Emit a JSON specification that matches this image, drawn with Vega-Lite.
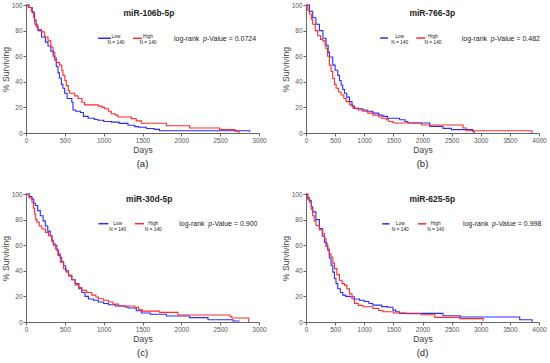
{
  "$schema": "https://vega.github.io/schema/vega-lite/v6.json",
  "padding": {"left": 1, "top": 2, "right": 2, "bottom": 3},
  "background": "white",
  "bounds": "flush",
  "columns": 2,
  "spacing": {"row": 61, "column": 47},
  "config": {
    "view": {"stroke": null},
    "font": "Liberation Sans",
    "axis": {"grid": false, "domainColor": "#666", "tickColor": "#666", "labelColor": "#555", "titleColor": "#444", "labelFont": "Liberation Sans", "titleFont": "Liberation Sans", "labelFontSize": 6.5, "titleFontSize": 8.5, "titleFontWeight": "normal", "tickSize": 3, "labelPadding": 1, "domainWidth": 1, "labelOverlap": false, "labelFlush": false, "format": "d"},
    "axisX": {"titlePadding": 2, "labelOverlap": false, "labelFlush": false},
    "axisY": {"titlePadding": 1, "labelOverlap": false, "labelFlush": false},
    "title": {"font": "Liberation Sans", "fontSize": 9.5, "fontWeight": "normal", "color": "#222", "orient": "bottom", "offset": 5},
    "text": {"font": "Liberation Sans", "color": "#222"}
  },
  "datasets": {
    "a": [
      {"day":0,"surv":100,"group":"Low"},{"day":40,"surv":98,"group":"Low"},{"day":80,"surv":94,"group":"Low"},{"day":110,"surv":88,"group":"Low"},{"day":130,"surv":83,"group":"Low"},{"day":155,"surv":80,"group":"Low"},{"day":200,"surv":75,"group":"Low"},{"day":250,"surv":71,"group":"Low"},{"day":283,"surv":68,"group":"Low"},{"day":320,"surv":64,"group":"Low"},{"day":350,"surv":60,"group":"Low"},{"day":369,"surv":57,"group":"Low"},{"day":390,"surv":52,"group":"Low"},{"day":412,"surv":47,"group":"Low"},{"day":430,"surv":43,"group":"Low"},{"day":455,"surv":38,"group":"Low"},{"day":475,"surv":35,"group":"Low"},{"day":498,"surv":31,"group":"Low"},{"day":530,"surv":27,"group":"Low"},{"day":590,"surv":24,"group":"Low"},{"day":605,"surv":18,"group":"Low"},{"day":640,"surv":17,"group":"Low"},{"day":700,"surv":16,"group":"Low"},{"day":740,"surv":13,"group":"Low"},{"day":800,"surv":11.5,"group":"Low"},{"day":880,"surv":10.5,"group":"Low"},{"day":927,"surv":10,"group":"Low"},{"day":1000,"surv":9,"group":"Low"},{"day":1100,"surv":8.5,"group":"Low"},{"day":1200,"surv":7.5,"group":"Low"},{"day":1313,"surv":6,"group":"Low"},{"day":1400,"surv":5,"group":"Low"},{"day":1450,"surv":4.5,"group":"Low"},{"day":1550,"surv":3.5,"group":"Low"},{"day":1650,"surv":2.8,"group":"Low"},{"day":1720,"surv":1.8,"group":"Low"},{"day":2858,"surv":1.8,"group":"Low"},{"day":2880,"surv":0.8,"group":"Low"},
      {"day":0,"surv":100,"group":"High"},{"day":30,"surv":98,"group":"High"},{"day":70,"surv":95,"group":"High"},{"day":100,"surv":90,"group":"High"},{"day":112,"surv":85,"group":"High"},{"day":150,"surv":81,"group":"High"},{"day":197,"surv":79,"group":"High"},{"day":240,"surv":75,"group":"High"},{"day":283,"surv":72,"group":"High"},{"day":320,"surv":67,"group":"High"},{"day":348,"surv":63,"group":"High"},{"day":370,"surv":59,"group":"High"},{"day":390,"surv":55,"group":"High"},{"day":433,"surv":53,"group":"High"},{"day":460,"surv":49,"group":"High"},{"day":476,"surv":45,"group":"High"},{"day":500,"surv":41,"group":"High"},{"day":519,"surv":37,"group":"High"},{"day":545,"surv":33,"group":"High"},{"day":562,"surv":31,"group":"High"},{"day":627,"surv":29,"group":"High"},{"day":670,"surv":27,"group":"High"},{"day":720,"surv":24,"group":"High"},{"day":755,"surv":22,"group":"High"},{"day":930,"surv":21,"group":"High"},{"day":980,"surv":20,"group":"High"},{"day":1013,"surv":19,"group":"High"},{"day":1060,"surv":17,"group":"High"},{"day":1099,"surv":15,"group":"High"},{"day":1150,"surv":14,"group":"High"},{"day":1185,"surv":12.5,"group":"High"},{"day":1356,"surv":11.2,"group":"High"},{"day":1420,"surv":9.5,"group":"High"},{"day":1485,"surv":7.6,"group":"High"},{"day":1807,"surv":5.7,"group":"High"},{"day":2107,"surv":3.9,"group":"High"},{"day":2494,"surv":2.6,"group":"High"},{"day":2690,"surv":1.5,"group":"High"},{"day":2742,"surv":0,"group":"High"}
    ],
    "b": [
      {"day":0,"surv":100,"group":"Low"},{"day":60,"surv":95,"group":"Low"},{"day":115,"surv":90,"group":"Low"},{"day":170,"surv":85,"group":"Low"},{"day":230,"surv":80,"group":"Low"},{"day":290,"surv":74,"group":"Low"},{"day":344,"surv":68.5,"group":"Low"},{"day":380,"surv":63,"group":"Low"},{"day":402,"surv":59.4,"group":"Low"},{"day":459,"surv":53,"group":"Low"},{"day":500,"surv":49,"group":"Low"},{"day":545,"surv":45,"group":"Low"},{"day":575,"surv":41,"group":"Low"},{"day":603,"surv":37.5,"group":"Low"},{"day":630,"surv":34,"group":"Low"},{"day":660,"surv":31,"group":"Low"},{"day":700,"surv":28,"group":"Low"},{"day":746,"surv":24.5,"group":"Low"},{"day":790,"surv":21,"group":"Low"},{"day":832,"surv":19,"group":"Low"},{"day":976,"surv":18,"group":"Low"},{"day":1050,"surv":17,"group":"Low"},{"day":1148,"surv":15.5,"group":"Low"},{"day":1250,"surv":14,"group":"Low"},{"day":1320,"surv":13,"group":"Low"},{"day":1400,"surv":11.5,"group":"Low"},{"day":1607,"surv":10.3,"group":"Low"},{"day":1700,"surv":9,"group":"Low"},{"day":1750,"surv":7.8,"group":"Low"},{"day":2124,"surv":5.2,"group":"Low"},{"day":2352,"surv":3.6,"group":"Low"},{"day":2495,"surv":2.6,"group":"Low"},{"day":2867,"surv":1,"group":"Low"},{"day":2887,"surv":0,"group":"Low"},
      {"day":0,"surv":100,"group":"High"},{"day":30,"surv":96,"group":"High"},{"day":57,"surv":93,"group":"High"},{"day":90,"surv":89,"group":"High"},{"day":115,"surv":85,"group":"High"},{"day":160,"surv":80,"group":"High"},{"day":201,"surv":76,"group":"High"},{"day":250,"surv":73,"group":"High"},{"day":287,"surv":72,"group":"High"},{"day":330,"surv":68,"group":"High"},{"day":344,"surv":66,"group":"High"},{"day":370,"surv":60,"group":"High"},{"day":402,"surv":53,"group":"High"},{"day":430,"surv":48,"group":"High"},{"day":459,"surv":42.6,"group":"High"},{"day":490,"surv":38,"group":"High"},{"day":517,"surv":35,"group":"High"},{"day":560,"surv":32,"group":"High"},{"day":603,"surv":29.7,"group":"High"},{"day":650,"surv":27,"group":"High"},{"day":689,"surv":24.5,"group":"High"},{"day":750,"surv":22,"group":"High"},{"day":804,"surv":19.4,"group":"High"},{"day":900,"surv":18,"group":"High"},{"day":976,"surv":17,"group":"High"},{"day":1060,"surv":15.5,"group":"High"},{"day":1148,"surv":14,"group":"High"},{"day":1250,"surv":12.5,"group":"High"},{"day":1300,"surv":11.5,"group":"High"},{"day":1377,"surv":10.3,"group":"High"},{"day":1420,"surv":9,"group":"High"},{"day":1492,"surv":7.8,"group":"High"},{"day":1981,"surv":6.3,"group":"High"},{"day":2696,"surv":3.9,"group":"High"},{"day":2753,"surv":1.8,"group":"High"},{"day":3874,"surv":1.8,"group":"High"},{"day":3880,"surv":0,"group":"High"}
    ],
    "c": [
      {"day":0,"surv":100,"group":"Low"},{"day":40,"surv":98,"group":"Low"},{"day":77,"surv":96,"group":"Low"},{"day":100,"surv":93,"group":"Low"},{"day":120,"surv":91,"group":"Low"},{"day":150,"surv":87,"group":"Low"},{"day":184,"surv":83,"group":"Low"},{"day":220,"surv":79,"group":"Low"},{"day":248,"surv":75,"group":"Low"},{"day":280,"surv":71,"group":"Low"},{"day":312,"surv":67.5,"group":"Low"},{"day":335,"surv":63,"group":"Low"},{"day":355,"surv":60,"group":"Low"},{"day":398,"surv":56,"group":"Low"},{"day":420,"surv":53,"group":"Low"},{"day":441,"surv":50.6,"group":"Low"},{"day":460,"surv":47,"group":"Low"},{"day":484,"surv":44,"group":"Low"},{"day":510,"surv":40,"group":"Low"},{"day":548,"surv":36,"group":"Low"},{"day":590,"surv":33,"group":"Low"},{"day":633,"surv":30,"group":"Low"},{"day":680,"surv":26,"group":"Low"},{"day":719,"surv":23,"group":"Low"},{"day":760,"surv":20,"group":"Low"},{"day":804,"surv":18,"group":"Low"},{"day":870,"surv":17,"group":"Low"},{"day":932,"surv":15.6,"group":"Low"},{"day":1000,"surv":14.5,"group":"Low"},{"day":1061,"surv":13.5,"group":"Low"},{"day":1150,"surv":12.5,"group":"Low"},{"day":1275,"surv":11.7,"group":"Low"},{"day":1313,"surv":10.9,"group":"Low"},{"day":1420,"surv":8.8,"group":"Low"},{"day":1485,"surv":7,"group":"Low"},{"day":1600,"surv":6,"group":"Low"},{"day":1807,"surv":4.7,"group":"Low"},{"day":2107,"surv":3.4,"group":"Low"},{"day":2343,"surv":1.8,"group":"Low"},{"day":2665,"surv":0.8,"group":"Low"},{"day":2750,"surv":0.8,"group":"Low"},
      {"day":0,"surv":100,"group":"High"},{"day":40,"surv":97,"group":"High"},{"day":77,"surv":93.5,"group":"High"},{"day":95,"surv":89,"group":"High"},{"day":111,"surv":84.4,"group":"High"},{"day":125,"surv":80,"group":"High"},{"day":141,"surv":78,"group":"High"},{"day":170,"surv":75,"group":"High"},{"day":205,"surv":72.7,"group":"High"},{"day":250,"surv":70,"group":"High"},{"day":291,"surv":67.5,"group":"High"},{"day":330,"surv":64,"group":"High"},{"day":350,"surv":61,"group":"High"},{"day":377,"surv":57,"group":"High"},{"day":410,"surv":52,"group":"High"},{"day":441,"surv":46.8,"group":"High"},{"day":484,"surv":41.6,"group":"High"},{"day":520,"surv":39,"group":"High"},{"day":548,"surv":36.4,"group":"High"},{"day":590,"surv":33,"group":"High"},{"day":633,"surv":29,"group":"High"},{"day":680,"surv":27,"group":"High"},{"day":719,"surv":24.7,"group":"High"},{"day":780,"surv":23,"group":"High"},{"day":847,"surv":21,"group":"High"},{"day":900,"surv":19.5,"group":"High"},{"day":932,"surv":18.2,"group":"High"},{"day":1000,"surv":17,"group":"High"},{"day":1061,"surv":15.6,"group":"High"},{"day":1120,"surv":14,"group":"High"},{"day":1190,"surv":12.5,"group":"High"},{"day":1400,"surv":11.5,"group":"High"},{"day":1450,"surv":9.5,"group":"High"},{"day":1500,"surv":8.5,"group":"High"},{"day":1720,"surv":7.5,"group":"High"},{"day":1956,"surv":5.5,"group":"High"},{"day":2623,"surv":4.5,"group":"High"},{"day":2650,"surv":3.1,"group":"High"},{"day":2860,"surv":3.1,"group":"High"},{"day":2868,"surv":0,"group":"High"}
    ],
    "d": [
      {"day":0,"surv":100,"group":"Low"},{"day":30,"surv":97,"group":"Low"},{"day":57,"surv":95,"group":"Low"},{"day":90,"surv":90,"group":"Low"},{"day":115,"surv":86,"group":"Low"},{"day":170,"surv":80,"group":"Low"},{"day":230,"surv":73,"group":"Low"},{"day":280,"surv":67,"group":"Low"},{"day":316,"surv":62.4,"group":"Low"},{"day":345,"surv":59,"group":"Low"},{"day":373,"surv":56,"group":"Low"},{"day":400,"surv":50,"group":"Low"},{"day":430,"surv":44.3,"group":"Low"},{"day":460,"surv":39,"group":"Low"},{"day":488,"surv":34,"group":"Low"},{"day":515,"surv":30,"group":"Low"},{"day":545,"surv":26,"group":"Low"},{"day":590,"surv":23,"group":"Low"},{"day":631,"surv":21,"group":"Low"},{"day":680,"surv":20,"group":"Low"},{"day":746,"surv":19.7,"group":"Low"},{"day":830,"surv":18,"group":"Low"},{"day":918,"surv":17,"group":"Low"},{"day":1000,"surv":16,"group":"Low"},{"day":1080,"surv":14.5,"group":"Low"},{"day":1148,"surv":13.2,"group":"Low"},{"day":1300,"surv":12,"group":"Low"},{"day":1400,"surv":11.5,"group":"Low"},{"day":1492,"surv":9.3,"group":"Low"},{"day":1540,"surv":8,"group":"Low"},{"day":1607,"surv":6.7,"group":"Low"},{"day":2352,"surv":4.9,"group":"Low"},{"day":2650,"surv":3.9,"group":"Low"},{"day":3669,"surv":1.8,"group":"Low"},{"day":3860,"surv":1.8,"group":"Low"},{"day":3880,"surv":0,"group":"Low"},
      {"day":0,"surv":100,"group":"High"},{"day":30,"surv":96,"group":"High"},{"day":57,"surv":93.5,"group":"High"},{"day":90,"surv":88,"group":"High"},{"day":115,"surv":83,"group":"High"},{"day":140,"surv":79,"group":"High"},{"day":172,"surv":75.4,"group":"High"},{"day":230,"surv":72,"group":"High"},{"day":287,"surv":69,"group":"High"},{"day":320,"surv":65,"group":"High"},{"day":345,"surv":61,"group":"High"},{"day":373,"surv":57,"group":"High"},{"day":400,"surv":53,"group":"High"},{"day":430,"surv":50.8,"group":"High"},{"day":460,"surv":46,"group":"High"},{"day":488,"surv":41.7,"group":"High"},{"day":530,"surv":37,"group":"High"},{"day":574,"surv":32.6,"group":"High"},{"day":620,"surv":30,"group":"High"},{"day":660,"surv":28.8,"group":"High"},{"day":700,"surv":26,"group":"High"},{"day":746,"surv":22,"group":"High"},{"day":790,"surv":18,"group":"High"},{"day":832,"surv":14.5,"group":"High"},{"day":900,"surv":13,"group":"High"},{"day":976,"surv":11.9,"group":"High"},{"day":1148,"surv":10.6,"group":"High"},{"day":1250,"surv":9,"group":"High"},{"day":1320,"surv":8,"group":"High"},{"day":1500,"surv":7,"group":"High"},{"day":1722,"surv":6.5,"group":"High"},{"day":1980,"surv":5.7,"group":"High"},{"day":2210,"surv":3.6,"group":"High"},{"day":2640,"surv":2.6,"group":"High"},{"day":3040,"surv":1.3,"group":"High"},{"day":3050,"surv":1.3,"group":"High"}
    ]
  },
  "concat": [
    {
      "width": 233, "height": 128,
      "title": {"text": "(a)"},
      "layer": [
        {"data": {"name": "a"}, "mark": {"type": "line", "interpolate": "step-after", "strokeWidth": 1.1},
         "encoding": {
           "x": {"field": "day", "type": "quantitative", "scale": {"domain": [0, 3000], "nice": false}, "axis": {"values": [0, 500, 1000, 1500, 2000, 2500, 3000], "title": "Days", "labelOverlap": false, "labelFlush": false}},
           "y": {"field": "surv", "type": "quantitative", "scale": {"domain": [0, 100], "nice": false}, "axis": {"values": [0, 20, 40, 60, 80, 100], "title": "% Surviving", "labelOverlap": false, "labelFlush": false}},
           "color": {"field": "group", "type": "nominal", "scale": {"domain": ["Low", "High"], "range": ["#2b2bff", "#ff2b2b"]}, "legend": null}
         }},
        {"data": {"values": [{}]}, "mark": {"type": "text", "text": "miR-106b-5p", "fontWeight": "bold", "fontSize": 8.5}, "encoding": {"x": {"datum": 1584, "axis": {"values": [0, 500, 1000, 1500, 2000, 2500, 3000], "title": "Days", "labelOverlap": false, "labelFlush": false}}, "y": {"datum": 93.8, "axis": {"values": [0, 20, 40, 60, 80, 100], "title": "% Surviving", "labelOverlap": false, "labelFlush": false}}}},
        {"data": {"values": [{}]}, "mark": {"type": "rule", "color": "#2b2bff", "strokeWidth": 1.5}, "encoding": {"x": {"datum": 927, "axis": {"values": [0, 500, 1000, 1500, 2000, 2500, 3000], "title": "Days", "labelOverlap": false, "labelFlush": false}}, "x2": {"datum": 1094}, "y": {"datum": 74, "axis": {"values": [0, 20, 40, 60, 80, 100], "title": "% Surviving", "labelOverlap": false, "labelFlush": false}}}},
        {"data": {"values": [{}]}, "mark": {"type": "rule", "color": "#ff2b2b", "strokeWidth": 1.5}, "encoding": {"x": {"datum": 1378, "axis": {"values": [0, 500, 1000, 1500, 2000, 2500, 3000], "title": "Days", "labelOverlap": false, "labelFlush": false}}, "x2": {"datum": 1494}, "y": {"datum": 74, "axis": {"values": [0, 20, 40, 60, 80, 100], "title": "% Surviving", "labelOverlap": false, "labelFlush": false}}}},
        {"data": {"values": [{}]}, "mark": {"type": "text", "text": ["Low", "N = 140"], "fontSize": 4.8, "lineHeight": 6, "baseline": "middle"}, "encoding": {"x": {"datum": 1159, "axis": {"values": [0, 500, 1000, 1500, 2000, 2500, 3000], "title": "Days", "labelOverlap": false, "labelFlush": false}}, "y": {"datum": 75, "axis": {"values": [0, 20, 40, 60, 80, 100], "title": "% Surviving", "labelOverlap": false, "labelFlush": false}}}},
        {"data": {"values": [{}]}, "mark": {"type": "text", "text": ["High", "N = 140"], "fontSize": 4.8, "lineHeight": 6, "baseline": "middle"}, "encoding": {"x": {"datum": 1571, "axis": {"values": [0, 500, 1000, 1500, 2000, 2500, 3000], "title": "Days", "labelOverlap": false, "labelFlush": false}}, "y": {"datum": 75, "axis": {"values": [0, 20, 40, 60, 80, 100], "title": "% Surviving", "labelOverlap": false, "labelFlush": false}}}},
        {"data": {"values": [{}]}, "mark": {"type": "text", "text": "log-rank", "fontSize": 7, "align": "left", "baseline": "middle"}, "encoding": {"x": {"datum": 1906, "axis": {"values": [0, 500, 1000, 1500, 2000, 2500, 3000], "title": "Days", "labelOverlap": false, "labelFlush": false}}, "y": {"datum": 73.5, "axis": {"values": [0, 20, 40, 60, 80, 100], "title": "% Surviving", "labelOverlap": false, "labelFlush": false}}}},
        {"data": {"values": [{}]}, "mark": {"type": "text", "text": "p", "fontSize": 7, "fontStyle": "italic", "align": "left", "baseline": "middle", "dx": 29}, "encoding": {"x": {"datum": 1906, "axis": {"values": [0, 500, 1000, 1500, 2000, 2500, 3000], "title": "Days", "labelOverlap": false, "labelFlush": false}}, "y": {"datum": 73.5, "axis": {"values": [0, 20, 40, 60, 80, 100], "title": "% Surviving", "labelOverlap": false, "labelFlush": false}}}},
        {"data": {"values": [{}]}, "mark": {"type": "text", "text": "-Value = 0.0724", "fontSize": 7, "align": "left", "baseline": "middle", "dx": 33}, "encoding": {"x": {"datum": 1906, "axis": {"values": [0, 500, 1000, 1500, 2000, 2500, 3000], "title": "Days", "labelOverlap": false, "labelFlush": false}}, "y": {"datum": 73.5, "axis": {"values": [0, 20, 40, 60, 80, 100], "title": "% Surviving", "labelOverlap": false, "labelFlush": false}}}}
      ]
    },
    {
      "width": 233, "height": 128,
      "title": {"text": "(b)"},
      "layer": [
        {"data": {"name": "b"}, "mark": {"type": "line", "interpolate": "step-after", "strokeWidth": 1.1},
         "encoding": {
           "x": {"field": "day", "type": "quantitative", "scale": {"domain": [0, 4000], "nice": false}, "axis": {"values": [0, 500, 1000, 1500, 2000, 2500, 3000, 3500, 4000], "title": "Days", "labelOverlap": false, "labelFlush": false}},
           "y": {"field": "surv", "type": "quantitative", "scale": {"domain": [0, 100], "nice": false}, "axis": {"values": [0, 20, 40, 60, 80, 100], "title": "% Surviving", "labelOverlap": false, "labelFlush": false}},
           "color": {"field": "group", "type": "nominal", "scale": {"domain": ["Low", "High"], "range": ["#2b2bff", "#ff2b2b"]}, "legend": null}
         }},
        {"data": {"values": [{}]}, "mark": {"type": "text", "text": "miR-766-3p", "fontWeight": "bold", "fontSize": 8.5}, "encoding": {"x": {"datum": 2169, "axis": {"values": [0, 500, 1000, 1500, 2000, 2500, 3000, 3500, 4000], "title": "Days", "labelOverlap": false, "labelFlush": false}}, "y": {"datum": 93.8, "axis": {"values": [0, 20, 40, 60, 80, 100], "title": "% Surviving", "labelOverlap": false, "labelFlush": false}}}},
        {"data": {"values": [{}]}, "mark": {"type": "rule", "color": "#2b2bff", "strokeWidth": 1.5}, "encoding": {"x": {"datum": 1274, "axis": {"values": [0, 500, 1000, 1500, 2000, 2500, 3000, 3500, 4000], "title": "Days", "labelOverlap": false, "labelFlush": false}}, "x2": {"datum": 1406}, "y": {"datum": 74.2, "axis": {"values": [0, 20, 40, 60, 80, 100], "title": "% Surviving", "labelOverlap": false, "labelFlush": false}}}},
        {"data": {"values": [{}]}, "mark": {"type": "rule", "color": "#ff2b2b", "strokeWidth": 1.5}, "encoding": {"x": {"datum": 1894, "axis": {"values": [0, 500, 1000, 1500, 2000, 2500, 3000, 3500, 4000], "title": "Days", "labelOverlap": false, "labelFlush": false}}, "x2": {"datum": 2049}, "y": {"datum": 74.2, "axis": {"values": [0, 20, 40, 60, 80, 100], "title": "% Surviving", "labelOverlap": false, "labelFlush": false}}}},
        {"data": {"values": [{}]}, "mark": {"type": "text", "text": ["Low", "N = 140"], "fontSize": 4.8, "lineHeight": 6, "baseline": "middle"}, "encoding": {"x": {"datum": 1607, "axis": {"values": [0, 500, 1000, 1500, 2000, 2500, 3000, 3500, 4000], "title": "Days", "labelOverlap": false, "labelFlush": false}}, "y": {"datum": 74.7, "axis": {"values": [0, 20, 40, 60, 80, 100], "title": "% Surviving", "labelOverlap": false, "labelFlush": false}}}},
        {"data": {"values": [{}]}, "mark": {"type": "text", "text": ["High", "N = 140"], "fontSize": 4.8, "lineHeight": 6, "baseline": "middle"}, "encoding": {"x": {"datum": 2181, "axis": {"values": [0, 500, 1000, 1500, 2000, 2500, 3000, 3500, 4000], "title": "Days", "labelOverlap": false, "labelFlush": false}}, "y": {"datum": 74.7, "axis": {"values": [0, 20, 40, 60, 80, 100], "title": "% Surviving", "labelOverlap": false, "labelFlush": false}}}},
        {"data": {"values": [{}]}, "mark": {"type": "text", "text": "log-rank", "fontSize": 7, "align": "left", "baseline": "middle"}, "encoding": {"x": {"datum": 2674, "axis": {"values": [0, 500, 1000, 1500, 2000, 2500, 3000, 3500, 4000], "title": "Days", "labelOverlap": false, "labelFlush": false}}, "y": {"datum": 73.6, "axis": {"values": [0, 20, 40, 60, 80, 100], "title": "% Surviving", "labelOverlap": false, "labelFlush": false}}}},
        {"data": {"values": [{}]}, "mark": {"type": "text", "text": "p", "fontSize": 7, "fontStyle": "italic", "align": "left", "baseline": "middle", "dx": 29}, "encoding": {"x": {"datum": 2674, "axis": {"values": [0, 500, 1000, 1500, 2000, 2500, 3000, 3500, 4000], "title": "Days", "labelOverlap": false, "labelFlush": false}}, "y": {"datum": 73.6, "axis": {"values": [0, 20, 40, 60, 80, 100], "title": "% Surviving", "labelOverlap": false, "labelFlush": false}}}},
        {"data": {"values": [{}]}, "mark": {"type": "text", "text": "-Value = 0.482", "fontSize": 7, "align": "left", "baseline": "middle", "dx": 33}, "encoding": {"x": {"datum": 2674, "axis": {"values": [0, 500, 1000, 1500, 2000, 2500, 3000, 3500, 4000], "title": "Days", "labelOverlap": false, "labelFlush": false}}, "y": {"datum": 73.6, "axis": {"values": [0, 20, 40, 60, 80, 100], "title": "% Surviving", "labelOverlap": false, "labelFlush": false}}}}
      ]
    },
    {
      "width": 233, "height": 128,
      "title": {"text": "(c)"},
      "layer": [
        {"data": {"name": "c"}, "mark": {"type": "line", "interpolate": "step-after", "strokeWidth": 1.1},
         "encoding": {
           "x": {"field": "day", "type": "quantitative", "scale": {"domain": [0, 3000], "nice": false}, "axis": {"values": [0, 500, 1000, 1500, 2000, 2500, 3000], "title": "Days", "labelOverlap": false, "labelFlush": false}},
           "y": {"field": "surv", "type": "quantitative", "scale": {"domain": [0, 100], "nice": false}, "axis": {"values": [0, 20, 40, 60, 80, 100], "title": "% Surviving", "labelOverlap": false, "labelFlush": false}},
           "color": {"field": "group", "type": "nominal", "scale": {"domain": ["Low", "High"], "range": ["#2b2bff", "#ff2b2b"]}, "legend": null}
         }},
        {"data": {"values": [{}]}, "mark": {"type": "text", "text": "miR-30d-5p", "fontWeight": "bold", "fontSize": 8.5}, "encoding": {"x": {"datum": 1587, "axis": {"values": [0, 500, 1000, 1500, 2000, 2500, 3000], "title": "Days", "labelOverlap": false, "labelFlush": false}}, "y": {"datum": 96, "axis": {"values": [0, 20, 40, 60, 80, 100], "title": "% Surviving", "labelOverlap": false, "labelFlush": false}}}},
        {"data": {"values": [{}]}, "mark": {"type": "rule", "color": "#2b2bff", "strokeWidth": 1.5}, "encoding": {"x": {"datum": 933, "axis": {"values": [0, 500, 1000, 1500, 2000, 2500, 3000], "title": "Days", "labelOverlap": false, "labelFlush": false}}, "x2": {"datum": 1061}, "y": {"datum": 76.8, "axis": {"values": [0, 20, 40, 60, 80, 100], "title": "% Surviving", "labelOverlap": false, "labelFlush": false}}}},
        {"data": {"values": [{}]}, "mark": {"type": "rule", "color": "#ff2b2b", "strokeWidth": 1.5}, "encoding": {"x": {"datum": 1403, "axis": {"values": [0, 500, 1000, 1500, 2000, 2500, 3000], "title": "Days", "labelOverlap": false, "labelFlush": false}}, "x2": {"datum": 1519}, "y": {"datum": 76.8, "axis": {"values": [0, 20, 40, 60, 80, 100], "title": "% Surviving", "labelOverlap": false, "labelFlush": false}}}},
        {"data": {"values": [{}]}, "mark": {"type": "text", "text": ["Low", "N = 140"], "fontSize": 4.8, "lineHeight": 6, "baseline": "middle"}, "encoding": {"x": {"datum": 1181, "axis": {"values": [0, 500, 1000, 1500, 2000, 2500, 3000], "title": "Days", "labelOverlap": false, "labelFlush": false}}, "y": {"datum": 76.8, "axis": {"values": [0, 20, 40, 60, 80, 100], "title": "% Surviving", "labelOverlap": false, "labelFlush": false}}}},
        {"data": {"values": [{}]}, "mark": {"type": "text", "text": ["High", "N = 140"], "fontSize": 4.8, "lineHeight": 6, "baseline": "middle"}, "encoding": {"x": {"datum": 1639, "axis": {"values": [0, 500, 1000, 1500, 2000, 2500, 3000], "title": "Days", "labelOverlap": false, "labelFlush": false}}, "y": {"datum": 76.8, "axis": {"values": [0, 20, 40, 60, 80, 100], "title": "% Surviving", "labelOverlap": false, "labelFlush": false}}}},
        {"data": {"values": [{}]}, "mark": {"type": "text", "text": "log-rank", "fontSize": 7, "align": "left", "baseline": "middle"}, "encoding": {"x": {"datum": 1973, "axis": {"values": [0, 500, 1000, 1500, 2000, 2500, 3000], "title": "Days", "labelOverlap": false, "labelFlush": false}}, "y": {"datum": 76.6, "axis": {"values": [0, 20, 40, 60, 80, 100], "title": "% Surviving", "labelOverlap": false, "labelFlush": false}}}},
        {"data": {"values": [{}]}, "mark": {"type": "text", "text": "p", "fontSize": 7, "fontStyle": "italic", "align": "left", "baseline": "middle", "dx": 29}, "encoding": {"x": {"datum": 1973, "axis": {"values": [0, 500, 1000, 1500, 2000, 2500, 3000], "title": "Days", "labelOverlap": false, "labelFlush": false}}, "y": {"datum": 76.6, "axis": {"values": [0, 20, 40, 60, 80, 100], "title": "% Surviving", "labelOverlap": false, "labelFlush": false}}}},
        {"data": {"values": [{}]}, "mark": {"type": "text", "text": "-Value = 0.900", "fontSize": 7, "align": "left", "baseline": "middle", "dx": 33}, "encoding": {"x": {"datum": 1973, "axis": {"values": [0, 500, 1000, 1500, 2000, 2500, 3000], "title": "Days", "labelOverlap": false, "labelFlush": false}}, "y": {"datum": 76.6, "axis": {"values": [0, 20, 40, 60, 80, 100], "title": "% Surviving", "labelOverlap": false, "labelFlush": false}}}}
      ]
    },
    {
      "width": 233, "height": 128,
      "title": {"text": "(d)"},
      "layer": [
        {"data": {"name": "d"}, "mark": {"type": "line", "interpolate": "step-after", "strokeWidth": 1.1},
         "encoding": {
           "x": {"field": "day", "type": "quantitative", "scale": {"domain": [0, 4000], "nice": false}, "axis": {"values": [0, 500, 1000, 1500, 2000, 2500, 3000, 3500, 4000], "title": "Days", "labelOverlap": false, "labelFlush": false}},
           "y": {"field": "surv", "type": "quantitative", "scale": {"domain": [0, 100], "nice": false}, "axis": {"values": [0, 20, 40, 60, 80, 100], "title": "% Surviving", "labelOverlap": false, "labelFlush": false}},
           "color": {"field": "group", "type": "nominal", "scale": {"domain": ["Low", "High"], "range": ["#2b2bff", "#ff2b2b"]}, "legend": null}
         }},
        {"data": {"values": [{}]}, "mark": {"type": "text", "text": "miR-625-5p", "fontWeight": "bold", "fontSize": 8.5}, "encoding": {"x": {"datum": 2169, "axis": {"values": [0, 500, 1000, 1500, 2000, 2500, 3000, 3500, 4000], "title": "Days", "labelOverlap": false, "labelFlush": false}}, "y": {"datum": 96.1, "axis": {"values": [0, 20, 40, 60, 80, 100], "title": "% Surviving", "labelOverlap": false, "labelFlush": false}}}},
        {"data": {"values": [{}]}, "mark": {"type": "rule", "color": "#2b2bff", "strokeWidth": 1.5}, "encoding": {"x": {"datum": 1308, "axis": {"values": [0, 500, 1000, 1500, 2000, 2500, 3000, 3500, 4000], "title": "Days", "labelOverlap": false, "labelFlush": false}}, "x2": {"datum": 1435}, "y": {"datum": 76.7, "axis": {"values": [0, 20, 40, 60, 80, 100], "title": "% Surviving", "labelOverlap": false, "labelFlush": false}}}},
        {"data": {"values": [{}]}, "mark": {"type": "rule", "color": "#ff2b2b", "strokeWidth": 1.5}, "encoding": {"x": {"datum": 1922, "axis": {"values": [0, 500, 1000, 1500, 2000, 2500, 3000, 3500, 4000], "title": "Days", "labelOverlap": false, "labelFlush": false}}, "x2": {"datum": 2066}, "y": {"datum": 76.7, "axis": {"values": [0, 20, 40, 60, 80, 100], "title": "% Surviving", "labelOverlap": false, "labelFlush": false}}}},
        {"data": {"values": [{}]}, "mark": {"type": "text", "text": ["Low", "N = 140"], "fontSize": 4.8, "lineHeight": 6, "baseline": "middle"}, "encoding": {"x": {"datum": 1618, "axis": {"values": [0, 500, 1000, 1500, 2000, 2500, 3000, 3500, 4000], "title": "Days", "labelOverlap": false, "labelFlush": false}}, "y": {"datum": 76.7, "axis": {"values": [0, 20, 40, 60, 80, 100], "title": "% Surviving", "labelOverlap": false, "labelFlush": false}}}},
        {"data": {"values": [{}]}, "mark": {"type": "text", "text": ["High", "N = 140"], "fontSize": 4.8, "lineHeight": 6, "baseline": "middle"}, "encoding": {"x": {"datum": 2227, "axis": {"values": [0, 500, 1000, 1500, 2000, 2500, 3000, 3500, 4000], "title": "Days", "labelOverlap": false, "labelFlush": false}}, "y": {"datum": 76.7, "axis": {"values": [0, 20, 40, 60, 80, 100], "title": "% Surviving", "labelOverlap": false, "labelFlush": false}}}},
        {"data": {"values": [{}]}, "mark": {"type": "text", "text": "log-rank", "fontSize": 7, "align": "left", "baseline": "middle"}, "encoding": {"x": {"datum": 2697, "axis": {"values": [0, 500, 1000, 1500, 2000, 2500, 3000, 3500, 4000], "title": "Days", "labelOverlap": false, "labelFlush": false}}, "y": {"datum": 76.2, "axis": {"values": [0, 20, 40, 60, 80, 100], "title": "% Surviving", "labelOverlap": false, "labelFlush": false}}}},
        {"data": {"values": [{}]}, "mark": {"type": "text", "text": "p", "fontSize": 7, "fontStyle": "italic", "align": "left", "baseline": "middle", "dx": 29}, "encoding": {"x": {"datum": 2697, "axis": {"values": [0, 500, 1000, 1500, 2000, 2500, 3000, 3500, 4000], "title": "Days", "labelOverlap": false, "labelFlush": false}}, "y": {"datum": 76.2, "axis": {"values": [0, 20, 40, 60, 80, 100], "title": "% Surviving", "labelOverlap": false, "labelFlush": false}}}},
        {"data": {"values": [{}]}, "mark": {"type": "text", "text": "-Value = 0.998", "fontSize": 7, "align": "left", "baseline": "middle", "dx": 33}, "encoding": {"x": {"datum": 2697, "axis": {"values": [0, 500, 1000, 1500, 2000, 2500, 3000, 3500, 4000], "title": "Days", "labelOverlap": false, "labelFlush": false}}, "y": {"datum": 76.2, "axis": {"values": [0, 20, 40, 60, 80, 100], "title": "% Surviving", "labelOverlap": false, "labelFlush": false}}}}
      ]
    }
  ]
}
